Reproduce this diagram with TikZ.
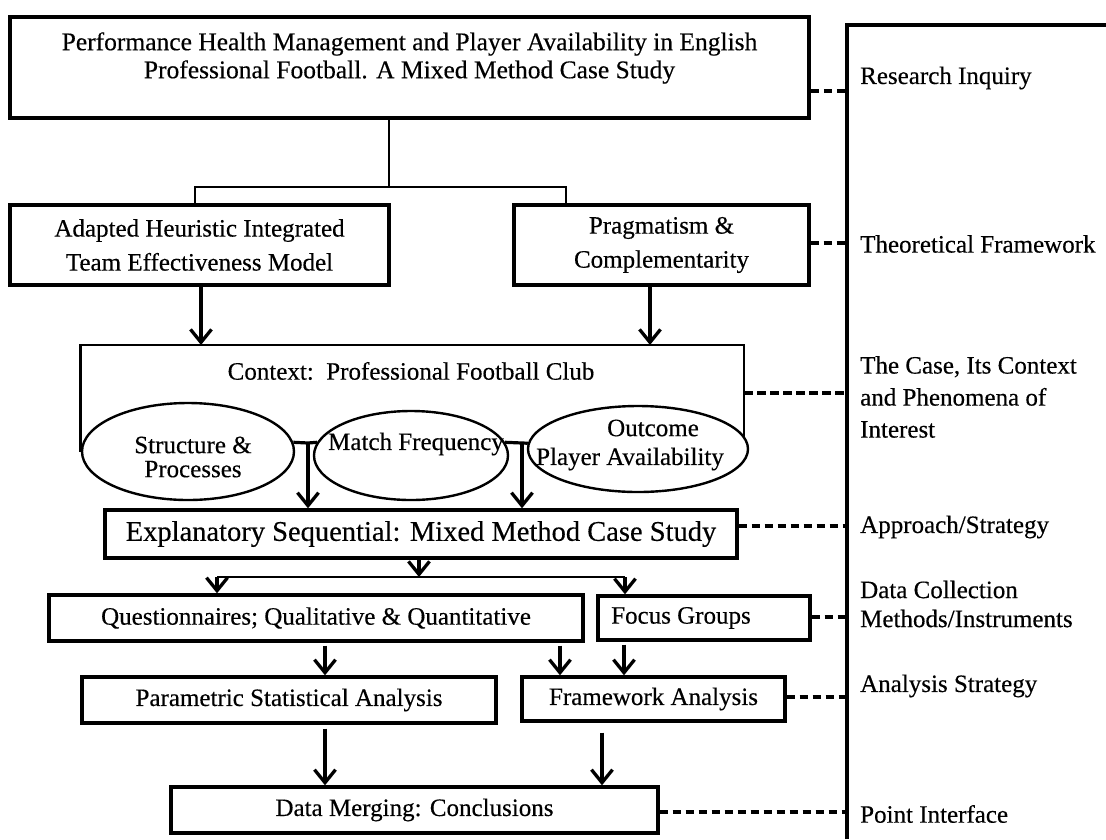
\documentclass[tikz,border=0pt]{standalone}
\usepackage{fontspec}
\setmainfont{Liberation Serif}[FakeBold=0.35]
\usetikzlibrary{arrows.meta,shapes.geometric}

\begin{document}
\begin{tikzpicture}[x=1pt,y=-1pt,
  box/.style={draw, line width=3.4pt, rectangle, inner sep=0pt, align=center,
              font=\fontsize{25}{34}\selectfont},
  oval/.style={draw, line width=2.4pt, ellipse, inner sep=0pt},
  txt/.style={inner sep=0pt, align=center, font=\fontsize{25}{34}\selectfont},
  lbl/.style={inner sep=0pt, anchor=west, align=left, font=\fontsize{25}{32}\selectfont},
  arr/.style={line width=3.3pt, -{Straight Barb[length=13pt,width=21pt]}},
  thinlink/.style={line width=1.5pt},
  heavylink/.style={line width=3.2pt},
  dashlink/.style={line width=3.8pt, dash pattern=on 8.5pt off 4.5pt},
]
\useasboundingbox (0,0) rectangle (1106,839);

% ---------- right-hand spine with the level labels ----------
\coordinate (spineTop) at (847,25);
\coordinate (spineBot) at (847,839);
\coordinate (spineEnd) at (1106,25);
\draw[line width=4pt] (spineBot) -- (spineTop) -- (spineEnd);

\coordinate (s1) at (847,91);
\coordinate (s2) at (847,243);
\coordinate (s3) at (847,393);
\coordinate (s4) at (847,526);
\coordinate (s5) at (847,617);
\coordinate (s6) at (847,697);
\coordinate (s7) at (847,812);

\node[lbl] (l1) at (860,78)  {Research Inquiry};
\node[lbl] (l2) at (860,244) {Theoretical Framework};
\node[lbl] (l3) at (860,397) {The Case, Its Context\\and Phenomena of\\Interest};
\node[lbl] (l4) at (860,527) {Approach/Strategy};
\node[lbl, font=\fontsize{25}{29}\selectfont] (l5) at (860,604) {Data Collection\\Methods/Instruments};
\node[lbl] (l6) at (860,686) {Analysis Strategy};
\node[lbl] (l7) at (860,814) {Point Interface};

% ---------- research inquiry ----------
\node[box, line width=3.6pt, minimum width=799pt, minimum height=101pt] (topbox) at (409.5,67.5) {};
\node[txt, font=\fontsize{25.5}{28}\selectfont] (title) at (409.5,58)
  {Performance Health Management and Player Availability in English\\Professional Football. A Mixed Method Case Study};

% ---------- theoretical framework ----------
\node[box, minimum width=379pt, minimum height=80pt] (adapted) at (199.5,245)
  {Adapted Heuristic Integrated\\Team Effectiveness Model};
\node[box, minimum width=295pt, minimum height=80pt] (pragm) at (661.5,245)
  {Pragmatism \&\\Complementarity};

\coordinate (tJ) at (389,187);
\coordinate (tL) at (195,187);
\coordinate (tR) at (566,187);
\draw[thinlink] (topbox.south -| tJ) -- (tJ);
\draw[thinlink] (tL |- adapted.north) -- (tL) -- (tR) -- (tR |- pragm.north);

% ---------- context bracket and phenomena ----------
\coordinate (ctxNW) at (82,345);
\coordinate (ctxNE) at (744,345);
\coordinate (ctxSE) at (744,438);
\node[txt] (ctxtext) at (411,371) {Context:\ \ Professional Football Club};

\node[oval, minimum width=212pt, minimum height=97pt] (struct) at (188,451.5) {};
\node[oval, minimum width=194pt, minimum height=89pt] (match) at (411,455.5) {};
\node[oval, minimum width=220pt, minimum height=86pt] (outcome) at (638,449) {};

\node[txt, font=\fontsize{25}{24}\selectfont] (structtxt) at (193,457) {Structure \&\\Processes};
\node[txt] (matchtxt) at (416,444) {Match Frequency};
\node[txt] (outtxt1) at (653,428) {Outcome};
\node[txt] (outtxt2) at (630,459) {Player Availability};

\draw[line width=2.7pt] (struct.west) -- (struct.west |- ctxNW) -- (ctxNE) -- (ctxSE);

\draw[arr] ([xshift=1.5pt]adapted.south) -- ([xshift=1.5pt]adapted.south |- ctxNW) ;
\draw[arr] ([xshift=-11.5pt]pragm.south) -- ([xshift=-11.5pt]pragm.south |- ctxNW);

% ---------- approach ----------
\node[box, font=\fontsize{28.5}{34}\selectfont, minimum width=632pt, minimum height=48pt] (expl) at (421,534)
  {Explanatory Sequential: Mixed Method Case Study};

\coordinate (j1) at (308,443);
\coordinate (j2) at (522,443);
\draw[heavylink] (struct.5) -- (j1) -- (match.172);
\draw[heavylink] (match.8) -- (j2) -- (outcome.177);
\draw[arr] (j1) -- (j1 |- expl.north);
\draw[arr] (j2) -- (j2 |- expl.north);

% ---------- data collection ----------
\node[box, minimum width=534pt, minimum height=46pt] (quest) at (316,618)
  {Questionnaires; Qualitative \& Quantitative};
\node[box, minimum width=212pt, minimum height=44pt] (focus) at (704,618) {};
\node[txt] (focustxt) at (681,618) {Focus Groups};

\coordinate (bM) at (419,577);
\coordinate (bL) at (217,577);
\coordinate (bR) at (625,577);
\draw[arr] (expl.south -| bM) -- (bM);
\draw[thinlink] (bL) -- (bR);
\draw[arr] (bL) -- (bL |- quest.north);
\draw[arr] (bR) -- (bR |- focus.north);

% ---------- analysis ----------
\node[box, minimum width=414pt, minimum height=46pt] (param) at (289,700)
  {Parametric Statistical Analysis};
\node[box, minimum width=263pt, minimum height=44pt] (fw) at (653.5,699)
  {Framework Analysis};

\draw[arr, shorten <=3pt] ([xshift=9pt]quest.south) -- ([xshift=9pt]quest.south |- param.north);
\draw[arr, shorten <=3pt] ([xshift=244pt]quest.south) -- ([xshift=244pt]quest.south |- fw.north);
\draw[arr, shorten <=3pt] ([xshift=-80pt]focus.south) -- ([xshift=-80pt]focus.south |- fw.north);

% ---------- merging ----------
\node[box, minimum width=487pt, minimum height=46pt] (merge) at (414.5,810)
  {Data Merging: Conclusions};

\draw[arr, shorten <=4pt] ([xshift=36pt]param.south) -- ([xshift=36pt]param.south |- merge.north);
\draw[arr, shorten <=10pt] ([xshift=-51.5pt]fw.south) -- ([xshift=-51.5pt]fw.south |- merge.north);

% ---------- dashed ties to the spine ----------
\draw[dashlink] (s1 -| topbox.east) -- (s1);
\draw[dashlink] (s2 -| pragm.east) -- (s2);
\draw[dashlink] (s3 -| ctxNE) -- (s3);
\draw[dashlink] (s4 -| expl.east) -- (s4);
\draw[dashlink] (s5 -| focus.east) -- (s5);
\draw[dashlink] (s6 -| fw.east) -- (s6);
\draw[dashlink] (s7 -| merge.east) -- (s7);
\end{tikzpicture}
\end{document}
